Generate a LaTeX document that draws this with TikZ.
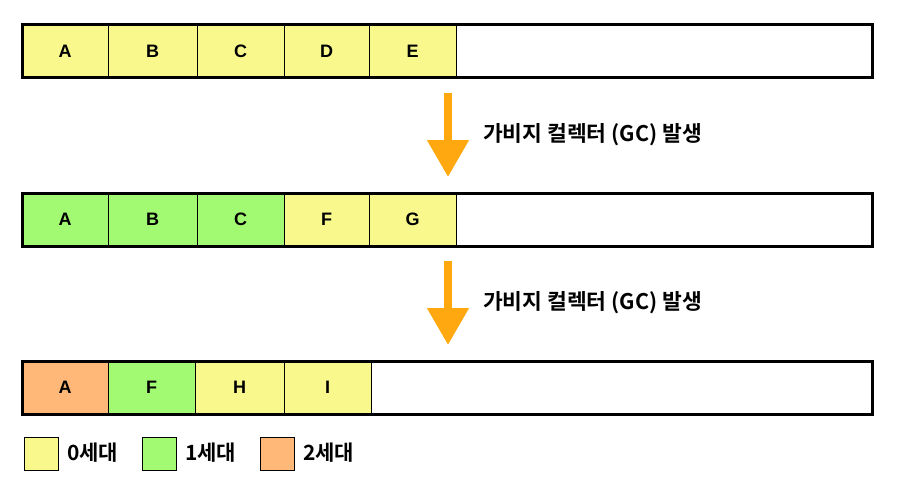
\documentclass[tikz,border=0pt]{standalone}
\usepackage{fontspec}
\usetikzlibrary{arrows.meta}
\setmainfont{Noto Sans CJK KR}[BoldFont={* Bold}]
\newfontfamily\kr{Noto Sans CJK KR Bold}
\newfontfamily\lat{Liberation Sans Bold}
\definecolor{gy}{RGB}{248,248,140}
\definecolor{gg}{RGB}{162,250,114}
\definecolor{go}{RGB}{255,184,120}
\definecolor{garrow}{RGB}{255,168,16}
\begin{document}
\begin{tikzpicture}[x=1pt,y=-1pt,
  bar/.style={draw=black,line width=3pt,fill=white,anchor=north west,minimum width=850pt,minimum height=53pt,inner sep=0pt,outer sep=0pt},
  cell/.style={draw=black,line width=1pt,anchor=north west,minimum height=53pt,inner sep=0pt,outer sep=0pt,font=\lat\fontsize{18}{18}\selectfont},
  lbl/.style={yshift=-2pt},
  leg/.style={draw=black,line width=1pt,anchor=north west,minimum width=34pt,minimum height=33pt,inner sep=0pt,outer sep=0pt},
  legtxt/.style={anchor=west,font=\kr\fontsize{21}{21}\selectfont,inner sep=0pt},
  gcarrow/.style={garrow,line width=8pt,-{Triangle[width=40pt,length=37pt]}},
  gctxt/.style={anchor=west,font=\kr\fontsize{21.5}{21.5}\selectfont,inner sep=0pt}]
\useasboundingbox (0,0) rectangle (899,484);
% row 1
\node[bar] (bar1) at (22,25) {};
\node[cell,fill=gy,minimum width=86pt] (a1) at (22,25) {\raisebox{-2pt}{A}};
\node[cell,fill=gy,minimum width=89pt] (b1) at (108,25) {\raisebox{-2pt}{B}};
\node[cell,fill=gy,minimum width=87pt] (c1) at (197,25) {\raisebox{-3pt}{C}};
\node[cell,fill=gy,minimum width=85pt] (d1) at (284,25) {\raisebox{-2pt}{D}};
\node[cell,fill=gy,minimum width=87pt] (e1) at (369,25) {\raisebox{-2pt}{E}};
\draw[line width=3pt] (bar1.north west) rectangle (bar1.south east);
% arrow 1
\coordinate (s1) at (448,93);
\coordinate (t1) at (448,177);
\draw[gcarrow] (s1) -- (t1);
\node[gctxt] (g1) at (483,135) {가비지 컬렉터 (GC) 발생};
% row 2
\node[bar] (bar2) at (22,193) {};
\node[cell,fill=gg,minimum width=86pt] (a2) at (22,193) {\raisebox{-2pt}{A}};
\node[cell,fill=gg,minimum width=89pt] (b2) at (108,193) {\raisebox{-2pt}{B}};
\node[cell,fill=gg,minimum width=87pt] (c2) at (197,193) {\raisebox{-3pt}{C}};
\node[cell,fill=gy,minimum width=85pt] (f2) at (284,193) {\raisebox{-2pt}{F}};
\node[cell,fill=gy,minimum width=87pt] (g2) at (369,193) {\raisebox{-2pt}{G}};
\draw[line width=3pt] (bar2.north west) rectangle (bar2.south east);
% arrow 2
\coordinate (s2) at (448,261);
\coordinate (t2) at (448,345);
\draw[gcarrow] (s2) -- (t2);
\node[gctxt] (g2t) at (483,303) {가비지 컬렉터 (GC) 발생};
% row 3
\node[bar] (bar3) at (22,361) {};
\node[cell,fill=go,minimum width=86pt] (a3) at (22,361) {\raisebox{-2pt}{A}};
\node[cell,fill=gg,minimum width=87pt] (f3) at (108,361) {\raisebox{-2pt}{F}};
\node[cell,fill=gy,minimum width=89pt] (h3) at (195,361) {\raisebox{-3pt}{H}};
\node[cell,fill=gy,minimum width=87pt] (i3) at (284,361) {\raisebox{-2pt}{I}};
\draw[line width=3pt] (bar3.north west) rectangle (bar3.south east);
% legend
\node[leg,fill=gy] (l0) at (24,437) {};
\node[legtxt] (t0) at (67,453) {0세대};
\node[leg,fill=gg] (l1) at (142,437) {};
\node[legtxt] (tl1) at (185,453) {1세대};
\node[leg,fill=go] (l2) at (260,437) {};
\node[legtxt] (tl2) at (303,453) {2세대};
\end{tikzpicture}
\end{document}
